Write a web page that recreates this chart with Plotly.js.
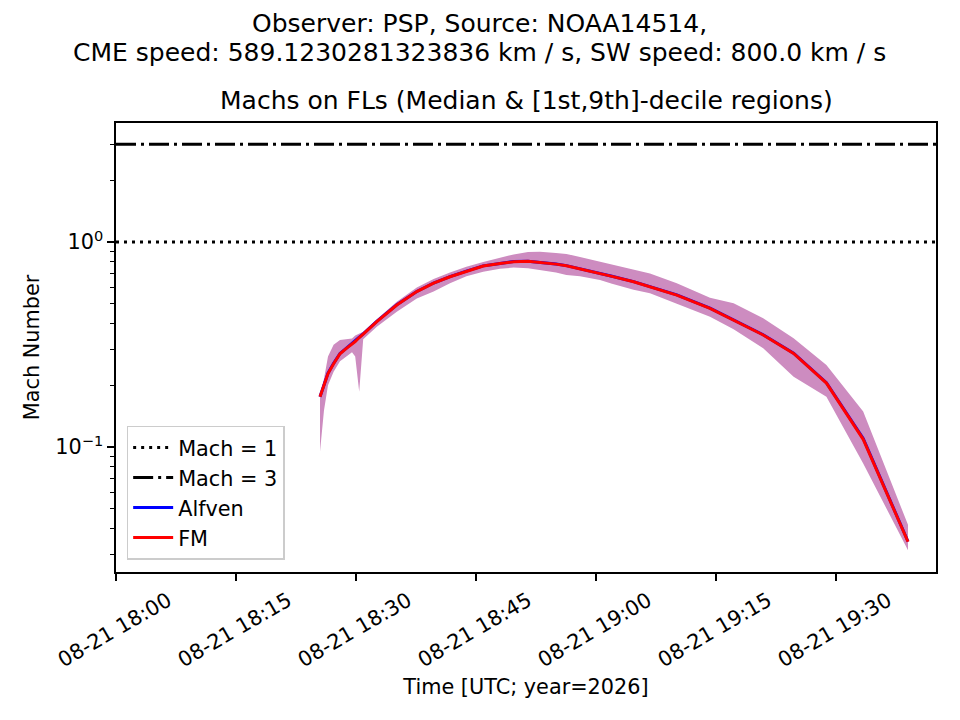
<!DOCTYPE html>
<html>
<head>
<meta charset="utf-8">
<script src="https://cdn.plot.ly/plotly-3.0.1.min.js"></script>
<style>
  body { margin: 0; background: white; }
  #chart { width: 960px; height: 720px; }
</style>
</head>
<body>
<div id="chart"></div>
<script>
// sample times (UTC, 2026-08-21)
var times = [
    '2026-08-21 18:25:30', '2026-08-21 18:26:00', '2026-08-21 18:26:30', '2026-08-21 18:27:12',
    '2026-08-21 18:28:00', '2026-08-21 18:28:48', '2026-08-21 18:29:30', '2026-08-21 18:29:54',
    '2026-08-21 18:30:24', '2026-08-21 18:30:54', '2026-08-21 18:32:36', '2026-08-21 18:35:06',
    '2026-08-21 18:37:36', '2026-08-21 18:39:42', '2026-08-21 18:41:45', '2026-08-21 18:43:48',
    '2026-08-21 18:45:54', '2026-08-21 18:48:00', '2026-08-21 18:49:42', '2026-08-21 18:51:30',
    '2026-08-21 18:53:00', '2026-08-21 18:55:00', '2026-08-21 18:56:18', '2026-08-21 18:58:00',
    '2026-08-21 19:00:30', '2026-08-21 19:02:00', '2026-08-21 19:04:42', '2026-08-21 19:06:45',
    '2026-08-21 19:10:06', '2026-08-21 19:14:15', '2026-08-21 19:17:12', '2026-08-21 19:20:54',
    '2026-08-21 19:24:42', '2026-08-21 19:28:48', '2026-08-21 19:33:24', '2026-08-21 19:39:00'
];

// FM mach median
var fmMedian = [
    0.176, 0.200, 0.228, 0.255, 0.285, 0.303, 0.318, 0.327, 0.342, 0.355, 0.409, 0.493,
    0.573, 0.630, 0.677, 0.720, 0.764, 0.785, 0.802, 0.805, 0.796, 0.780, 0.766, 0.740,
    0.703, 0.680, 0.640, 0.605, 0.551, 0.475, 0.417, 0.352, 0.286, 0.205, 0.109, 0.0345
];

// Alfven mach median (sits under the FM curve)
var alfvenMedian = [
    0.176, 0.201, 0.229, 0.256, 0.286, 0.304, 0.319, 0.328, 0.343, 0.356, 0.410, 0.494,
    0.574, 0.631, 0.678, 0.721, 0.765, 0.786, 0.803, 0.806, 0.797, 0.781, 0.767, 0.741,
    0.704, 0.681, 0.641, 0.606, 0.552, 0.476, 0.418, 0.353, 0.287, 0.206, 0.110, 0.0346
];

// 1st decile
var decile1 = [
    0.095, 0.151, 0.200, 0.233, 0.262, 0.278, 0.290, 0.276, 0.186, 0.335, 0.386, 0.457,
    0.530, 0.573, 0.630, 0.680, 0.717, 0.740, 0.750, 0.745, 0.730, 0.710, 0.690, 0.680,
    0.653, 0.625, 0.585, 0.562, 0.500, 0.432, 0.375, 0.303, 0.220, 0.176, 0.083, 0.0314
];

// 9th decile
var decile9 = [
    0.180, 0.215, 0.276, 0.315, 0.333, 0.335, 0.338, 0.350, 0.356, 0.365, 0.420, 0.511,
    0.600, 0.660, 0.710, 0.758, 0.800, 0.840, 0.870, 0.895, 0.897, 0.885, 0.875, 0.845,
    0.800, 0.780, 0.736, 0.703, 0.629, 0.535, 0.502, 0.425, 0.339, 0.251, 0.149, 0.0417
];

var timeRange = ['2026-08-21 18:00:00', '2026-08-21 19:42:30'];
var machOne = 1;
var machThree = 3;

var yTickVals = [0.1, 1];
var yTickText = ['10<sup>\u22121</sup>', '10<sup>0</sup>'];
var yMinorVals = [0.03, 0.04, 0.05, 0.06, 0.07, 0.08, 0.09, 0.2, 0.3, 0.4, 0.5, 0.6, 0.7, 0.8, 0.9, 2, 3];

var bandColor = 'rgb(205,140,192)';
var fontFam = 'DejaVu Sans, sans-serif';

var data = [
    {
    x: times,
    y: decile1,
    mode: 'lines',
    line: { width: 0, color: bandColor },
    showlegend: false,
    hoverinfo: 'skip'
    },
    {
    x: times,
    y: decile9,
    mode: 'lines',
    fill: 'tonexty',
    fillcolor: bandColor,
    line: { width: 0, color: bandColor },
    showlegend: false,
    hoverinfo: 'skip'
    },
    {
    x: timeRange,
    y: [machOne, machOne],
    mode: 'lines',
    name: 'Mach = 1',
    line: { color: 'black', width: 3, dash: '3px,5px' }
    },
    {
    x: timeRange,
    y: [machThree, machThree],
    mode: 'lines',
    name: 'Mach = 3',
    line: { color: 'black', width: 3, dash: '20px,5px,3px,5px' }
    },
    {
    x: times,
    y: alfvenMedian,
    mode: 'lines',
    name: 'Alfven',
    line: { color: 'blue', width: 3 }
    },
    {
    x: times,
    y: fmMedian,
    mode: 'lines',
    name: 'FM',
    line: { color: 'red', width: 3 }
    }
];

var layout = {
    width: 960,
    height: 720,
    plot_bgcolor: 'white',
    paper_bgcolor: 'white',
    font: { family: fontFam, size: 20.8, color: 'black' },
    margin: { t: 123, b: 148, l: 116, r: 24 },
    showlegend: true,
    legend: {
        x: 0.013,
        y: 0.027,
        xanchor: 'left',
        yanchor: 'bottom',
        traceorder: 'normal',
        bgcolor: 'rgba(255,255,255,0.8)',
        bordercolor: '#cccccc',
        borderwidth: 1.5,
        font: { family: fontFam, size: 20.8 },
        itemwidth: 40
    },
    xaxis: {
        type: 'date',
        range: timeRange,
        tickformat: '%m-%d %H:%M',
        dtick: 900000,
        tick0: '2026-08-21 18:00:00',
        tickangle: -30,
        ticklabelshift: 52,
        ticks: 'outside',
        ticklen: 7,
        tickwidth: 1.6,
        tickcolor: 'black',
        showgrid: false,
        zeroline: false,
        showline: true,
        linecolor: 'black',
        linewidth: 1.6,
        mirror: true,
        title: { text: 'Time [UTC; year=2026]', font: { size: 20.8 }, standoff: 8 }
    },
    yaxis: {
        type: 'log',
        range: [Math.log10(0.02456), Math.log10(3.807)],
        tickmode: 'array',
        tickvals: yTickVals,
        ticktext: yTickText,
        ticks: 'outside',
        ticklen: 7,
        tickwidth: 1.6,
        tickcolor: 'black',
        minor: {
            tickmode: 'array',
            tickvals: yMinorVals,
            ticks: 'outside',
            ticklen: 4,
            tickwidth: 1.2,
            tickcolor: 'black',
            showgrid: false
        },
        showgrid: false,
        zeroline: false,
        showline: true,
        linecolor: 'black',
        linewidth: 1.6,
        mirror: true,
        title: { text: 'Mach Number', font: { size: 20.8 }, standoff: 10 }
    },
    annotations: [
        {
        text: 'Observer: PSP, Source: NOAA14514,',
        xref: 'paper', yref: 'paper',
        x: 0.4439, y: 1.2205,
        xanchor: 'center', yanchor: 'middle',
        showarrow: false,
        font: { size: 25 }
        },
        {
        text: 'CME speed: 589.1230281323836 km / s, SW speed: 800.0 km / s',
        xref: 'paper', yref: 'paper',
        x: 0.4439, y: 1.158,
        xanchor: 'center', yanchor: 'middle',
        showarrow: false,
        font: { size: 25 }
        },
        {
        text: 'Machs on FLs (Median & [1st,9th]-decile regions)',
        xref: 'paper', yref: 'paper',
        x: 0.5, y: 1,
        xanchor: 'center', yanchor: 'bottom',
        yshift: 6,
        showarrow: false,
        font: { size: 25 }
        }
    ]
};

//Create the chart
Plotly.newPlot('chart', data, layout, { displayModeBar: false, staticPlot: true });
</script>
</body>
</html>
